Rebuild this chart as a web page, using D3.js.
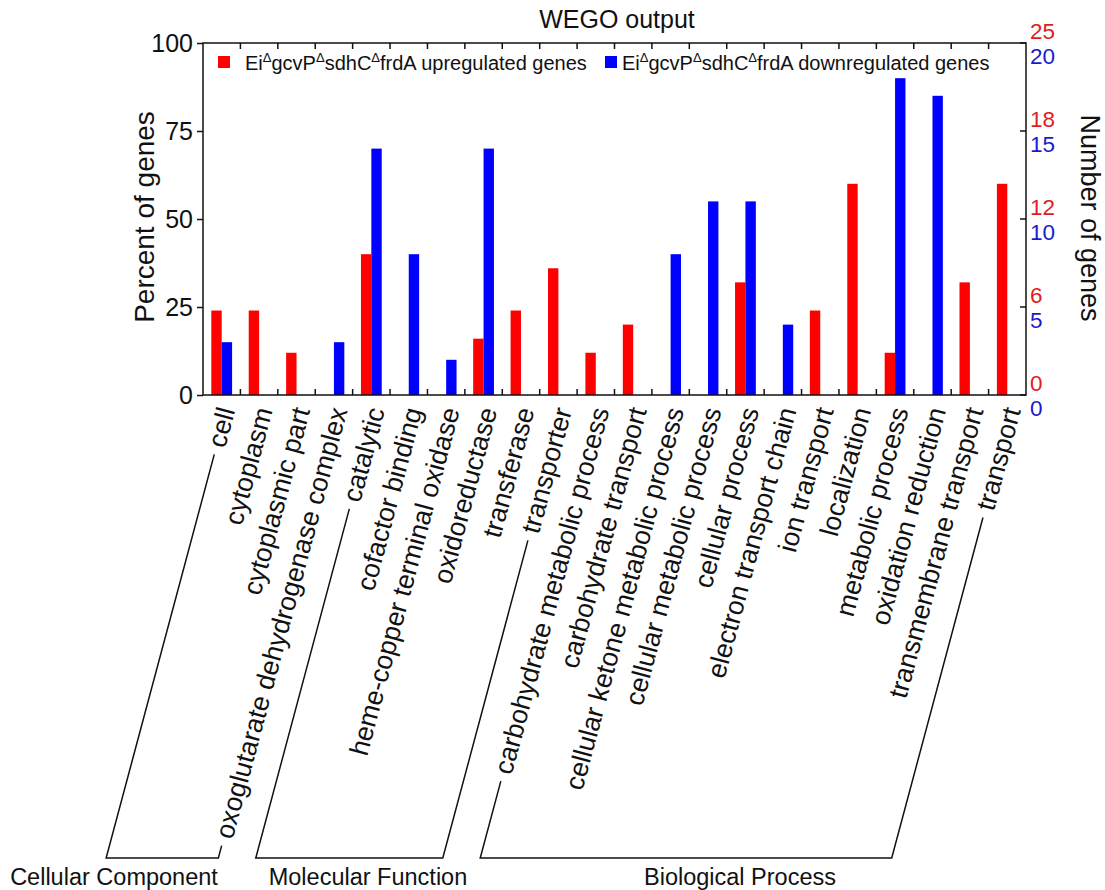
<!DOCTYPE html>
<html>
<head>
<meta charset="utf-8">
<script src="https://cdn.jsdelivr.net/npm/d3@7/dist/d3.min.js"></script>
<style>
  body { margin: 0; background: #fff; }
  text { font-family: "Liberation Sans", Arial, Helvetica, sans-serif; fill: #111; }
</style>
</head>
<body>
<svg id="chart" width="1105" height="890"></svg>
<script>
// ---------- DATA ----------
const categories = [
  "cell", "cytoplasm", "cytoplasmic part", "oxoglutarate dehydrogenase complex",
  "catalytic", "cofactor binding", "heme-copper terminal oxidase", "oxidoreductase",
  "transferase", "transporter",
  "carbohydrate metabolic process", "carbohydrate transport",
  "cellular ketone metabolic process", "cellular metabolic process", "cellular process",
  "electron transport chain", "ion transport", "localization", "metabolic process",
  "oxidation reduction", "transmembrane transport", "transport"
];
// percent of genes (upregulated: 25 genes total, downregulated: 20 genes total)
const upPercent   = [24, 24, 12, 0, 40, 0, 0, 16, 24, 36, 12, 20, 0, 0, 32, 0, 24, 60, 12, 0, 32, 60];
const downPercent = [15, 0, 0, 15, 70, 40, 10, 70, 0, 0, 0, 0, 40, 55, 55, 20, 0, 0, 90, 85, 0, 0];
const leftTicks = [0, 25, 50, 75, 100];
const upCountTicks = ["0", "6", "12", "18", "25"];
const downCountTicks = ["0", "5", "10", "15", "20"];
const groupNames = ["Cellular Component", "Molecular Function", "Biological Process"];
const groupFirst = [0, 4, 10];
const groupLast = [3, 9, 21];
const seriesNames = ["upregulated genes", "downregulated genes"];

// ---------- LAYOUT ----------
const L = { left: 203, right: 1026, top: 43, bottom: 395 };
const colors = { up: "#ff0000", down: "#0000ff", upText: "#e02020", downText: "#1a1acc" };
const groupLabelX = [114, 368, 740];
const bracketBottom = 858;
const angle = -75;

const svg = d3.select("#chart");

const x = d3.scaleBand().domain(d3.range(categories.length)).range([L.left, L.right]).padding(0);
const xs = d3.scaleBand().domain(["up", "down"]).range([0, x.bandwidth()]).paddingInner(0).paddingOuter(0.8);
const y = d3.scaleLinear().domain([0, 100]).range([L.bottom, L.top]);

// bars
const barsG = svg.append("g");
barsG.selectAll("rect.up").data(upPercent).join("rect")
  .attr("x", (d, i) => x(i) + xs("up"))
  .attr("width", xs.bandwidth())
  .attr("y", d => y(d))
  .attr("height", d => y(0) - y(d))
  .attr("fill", colors.up);
barsG.selectAll("rect.down").data(downPercent).join("rect")
  .attr("x", (d, i) => x(i) + xs("down"))
  .attr("width", xs.bandwidth())
  .attr("y", d => y(d))
  .attr("height", d => y(0) - y(d))
  .attr("fill", colors.down);

// frame
svg.append("rect")
  .attr("x", L.left).attr("y", L.top)
  .attr("width", L.right - L.left).attr("height", L.bottom - L.top)
  .attr("fill", "none").attr("stroke", "#111").attr("stroke-width", 1.5);

// left axis
const yAxisL = d3.axisLeft(y).tickValues(leftTicks).tickSize(6).tickPadding(4);
const gL = svg.append("g").attr("transform", `translate(${L.left},0)`).call(yAxisL);
gL.select(".domain").remove();
gL.selectAll("line").attr("stroke", "#111").attr("stroke-width", 1.5);
gL.selectAll("text").style("font-size", "25px").attr("fill", "#111")
  .style("font-family", '"Liberation Sans", Arial, sans-serif');

// right axis ticks (inside)
const gR = svg.append("g").attr("transform", `translate(${L.right},0)`);
gR.selectAll("line").data(leftTicks).join("line")
  .attr("x1", 0).attr("x2", -6).attr("y1", d => y(d)).attr("y2", d => y(d))
  .attr("stroke", "#111").attr("stroke-width", 1.5);
gR.selectAll("text.upc").data(leftTicks).join("text")
  .attr("class", "upc")
  .attr("x", 4).attr("y", d => y(d) - 12).attr("dy", "0.35em")
  .style("font-size", "22.5px").style("fill", colors.upText)
  .text((d, i) => upCountTicks[i]);
gR.selectAll("text.downc").data(leftTicks).join("text")
  .attr("class", "downc")
  .attr("x", 4).attr("y", d => y(d) + 13).attr("dy", "0.35em")
  .style("font-size", "22.5px").style("fill", colors.downText)
  .text((d, i) => downCountTicks[i]);

// x ticks at category boundaries (top and bottom, inside)
const bounds = d3.range(1, categories.length).map(i => x(i));
svg.append("g").selectAll("line").data(bounds).join("line")
  .attr("x1", d => d).attr("x2", d => d).attr("y1", L.bottom).attr("y2", L.bottom - 6)
  .attr("stroke", "#111").attr("stroke-width", 1.5);
svg.append("g").selectAll("line").data(bounds).join("line")
  .attr("x1", d => d).attr("x2", d => d).attr("y1", L.top).attr("y2", L.top + 6)
  .attr("stroke", "#111").attr("stroke-width", 1.5);

// axis titles
svg.append("text")
  .attr("transform", `translate(154,${(L.top + L.bottom) / 2 - 2}) rotate(-90)`)
  .attr("text-anchor", "middle")
  .style("font-size", "28px")
  .text("Percent of genes");
svg.append("text")
  .attr("transform", `translate(1081,${(L.top + L.bottom) / 2 - 1}) rotate(90)`)
  .attr("text-anchor", "middle")
  .style("font-size", "27px")
  .text("Number of genes");

// title
svg.append("text")
  .attr("x", 617).attr("y", 28)
  .attr("text-anchor", "middle")
  .style("font-size", "25px")
  .text("WEGO output");

// legend
function legendLabel(g, xPos, name) {
  const t = g.append("text").attr("x", xPos).attr("y", 70).style("font-size", "20px");
  const parts = [["Ei", 0], ["Δ", -8], ["gcvP", 8], ["Δ", -8], ["sdhC", 8], ["Δ", -8], ["frdA " + name, 8]];
  parts.forEach(([s, dy]) => {
    const sp = t.append("tspan").attr("dy", dy).text(s);
    if (s === "Δ") sp.style("font-size", "13px");
  });
  return t;
}
const lg = svg.append("g");
lg.append("rect").attr("x", 218).attr("y", 56).attr("width", 12).attr("height", 12).attr("fill", colors.up);
legendLabel(lg, 245, seriesNames[0]);
lg.append("rect").attr("x", 605).attr("y", 56).attr("width", 12).attr("height", 12).attr("fill", colors.down);
legendLabel(lg, 622, seriesNames[1]);

// category labels
const rad = angle * Math.PI / 180;
const u = [Math.cos(rad), Math.sin(rad)];
const anchorY = 408;
const labelOffsetX = 5;
const labelsG = svg.append("g");
const starts = [];
categories.forEach((c, i) => {
  const ax = x(i) + x.bandwidth() / 2 + labelOffsetX;
  const t = labelsG.append("text")
    .attr("transform", `translate(${ax},${anchorY}) rotate(${angle})`)
    .attr("text-anchor", "end")
    .attr("dominant-baseline", "central")
    .style("font-size", "26.7px")
    .text(c);
  const len = t.node().getComputedTextLength();
  starts.push([ax - u[0] * len, anchorY - u[1] * len]);
});

// group brackets
const gap = 8;
const bG = svg.append("g");
groupNames.forEach((name, gi) => {
  const sF = starts[groupFirst[gi]], sL = starts[groupLast[gi]];
  const p1 = [sF[0] - u[0] * gap, sF[1] - u[1] * gap];
  const p4 = [sL[0] - u[0] * gap, sL[1] - u[1] * gap];
  const p2 = [p1[0] + (bracketBottom - p1[1]) * (u[0] / u[1]), bracketBottom];
  const p3 = [p4[0] + (bracketBottom - p4[1]) * (u[0] / u[1]), bracketBottom];
  bG.append("path")
    .attr("d", d3.line()([p1, p2, p3, p4]))
    .attr("fill", "none").attr("stroke", "#111").attr("stroke-width", 1.5);
  bG.append("text")
    .attr("x", groupLabelX[gi]).attr("y", 885)
    .attr("text-anchor", "middle")
    .style("font-size", "23.5px")
    .text(name);
});
</script>
</body>
</html>
